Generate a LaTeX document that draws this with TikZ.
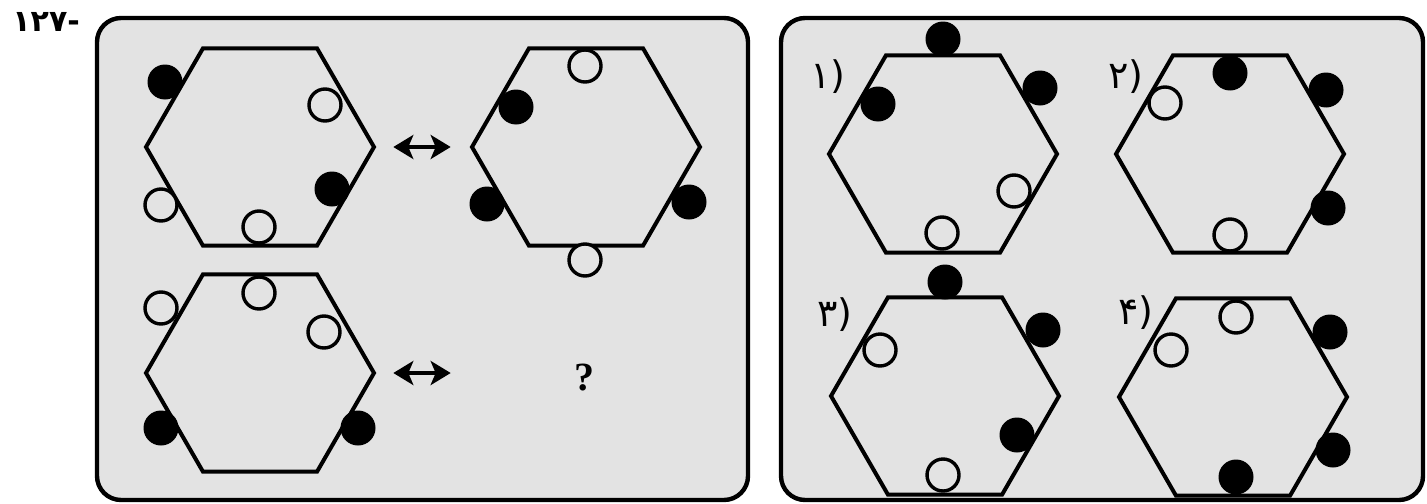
\documentclass[tikz,border=0pt]{standalone}
\usepackage{fontspec}
\usepackage{tikz}
\usetikzlibrary{arrows.meta,calc,shapes.geometric}
\newfontfamily\fafont[Script=Arabic]{DejaVu Sans}
\newfontfamily\qfont{Liberation Serif}
\definecolor{panelgray}{HTML}{E3E3E3}
\tikzset{
  panel/.style={draw,line width=2.2pt,rounded corners=12pt,fill=panelgray},
  hexa/.style={draw,line width=2pt,regular polygon,regular polygon sides=6,minimum size=114pt,inner sep=0pt},
  wdot/.style={draw,circle,line width=1.7pt,fill=panelgray,minimum size=16pt,inner sep=0pt},
  bdot/.style={circle,fill=black,minimum size=17.5pt,inner sep=0pt},
  dbl/.style={{Stealth[length=10pt,width=12pt,inset=2.5pt]}-{Stealth[length=10pt,width=12pt,inset=2.5pt]},line width=2.2pt},
  optlbl/.style={font=\fontsize{19}{19}\selectfont\fafont},
}

\begin{document}
\begin{tikzpicture}[x=0.5pt,y=-0.5pt]
 \useasboundingbox (0,0) rectangle (1427,503);
 \node[anchor=west,inner sep=0pt,font=\fontsize{15}{15}\selectfont\fafont\bfseries] (num) at (12,22) {-۱۲۷};
 \draw[panel] (97,18) rectangle (748,500);
 \draw[panel] (781,18) rectangle (1423,500);
 % question
 \node[hexa] (h1) at (260,147) {};
 \foreach \dx/\dy/\s [count=\i] in {-95/-65/bdot,65/-42/wdot,72/42/bdot,-99/58/wdot,-1/80/wdot}
   \node[\s] (h1-\i) at ($(h1.center)+(\dx,\dy)$) {};
 \node[hexa] (h2) at (586,147) {};
 \foreach \dx/\dy/\s [count=\i] in {-1/-81/wdot,-70/-40/bdot,-99/57/bdot,103/55/bdot,-1/113/wdot}
   \node[\s] (h2-\i) at ($(h2.center)+(\dx,\dy)$) {};
 \node[hexa] (h3) at (260,373) {};
 \foreach \dx/\dy/\s [count=\i] in {-99/-65/wdot,-1/-80/wdot,64/-41/wdot,-99/55/bdot,98/55/bdot}
   \node[\s] (h3-\i) at ($(h3.center)+(\dx,\dy)$) {};
 \node[font=\fontsize{20}{20}\selectfont\qfont\bfseries] (q) at (584,378) {?};
 \draw[dbl] ($(h1.east)+(17,0)$) -- ($(h2.west)+(-19,0)$);
 \draw[dbl] ($(h3.east)+(17,0)$) -- ($(h2.west|-h3.east)+(-19,0)$);
 % options
 \node[hexa] (o1) at (943,154) {};
 \foreach \dx/\dy/\s [count=\i] in {0/-115/bdot,97/-66/bdot,-65/-50/bdot,71/37/wdot,-1/79/wdot}
   \node[\s] (o1-\i) at ($(o1.center)+(\dx,\dy)$) {};
 \node[hexa] (o2) at (1230,154) {};
 \foreach \dx/\dy/\s [count=\i] in {-65/-51/wdot,0/-81/bdot,96/-64/bdot,98/54/bdot,0/81/wdot}
   \node[\s] (o2-\i) at ($(o2.center)+(\dx,\dy)$) {};
 \node[hexa] (o3) at (945,396) {};
 \foreach \dx/\dy/\s [count=\i] in {0/-114/bdot,98/-66/bdot,-65/-46/wdot,72/39/bdot,-2/79/wdot}
   \node[\s] (o3-\i) at ($(o3.center)+(\dx,\dy)$) {};
 \node[hexa] (o4) at (1233,397) {};
 \foreach \dx/\dy/\s [count=\i] in {3/-80/wdot,-62/-47/wdot,97/-65/bdot,100/53/bdot,3/80/bdot}
   \node[\s] (o4-\i) at ($(o4.center)+(\dx,\dy)$) {};
 \node[optlbl] (l1) at (828,77) {(۱};
 \node[optlbl] (l2) at (1126,77) {(۲};
 \node[optlbl] (l3) at (835,315) {(۳};
 \node[optlbl] (l4) at (1136,313) {(۴};
\end{tikzpicture}
\end{document}
